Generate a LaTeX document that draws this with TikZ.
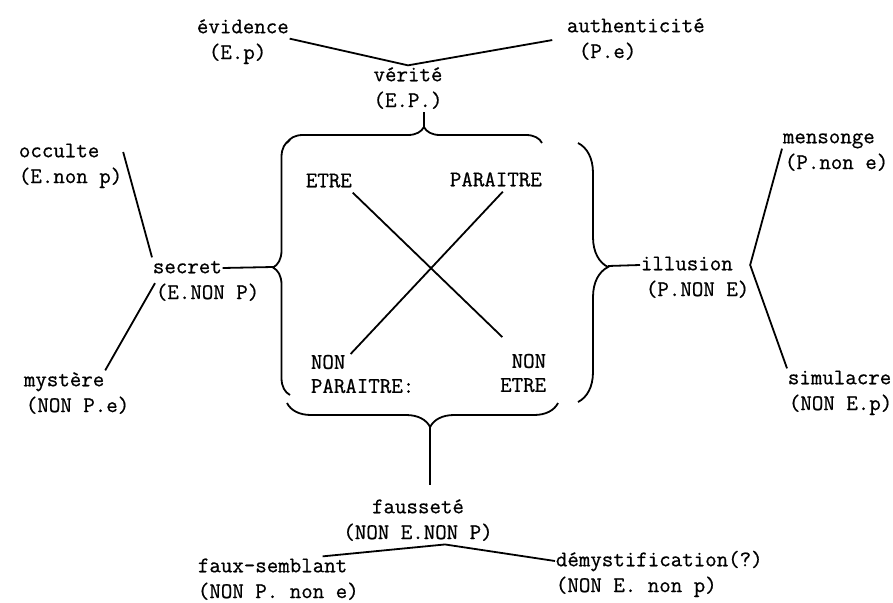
\documentclass[tikz,border=0pt]{standalone}
\usepackage{fontspec}
\newfontfamily\typefont[FakeBold=0.7]{Latin Modern Mono}
\usetikzlibrary{positioning,decorations.pathreplacing}

\begin{document}
\begin{tikzpicture}[x=1pt,y=-1pt,line width=1.8pt,
    every node/.style={inner sep=0pt,font=\typefont\fontsize{22.3}{24}\selectfont},
    term/.style={text height=15pt,text depth=4.5pt},
    curly/.style 2 args={decorate,decoration={brace,amplitude=#1,aspect=#2}}]
\useasboundingbox (0,0) rectangle (893,602);

% top: verite
\node[term] (verite) at (408,76) {vérité};
\node[term,below=4.5pt of verite] (veritef) {(E.P.)};
\node[term,anchor=west] (evid) at (196,28) {évidence};
\node[term,below right=4.5pt and 12pt of evid.south west] (evidf) {(E.p)};
\node[term,anchor=west] (auth) at (566,27) {authenticité};
\node[term,below right=4.5pt and 12pt of auth.south west] (authf) {(P.e)};

% left: secret
\node[term,anchor=west] (secret) at (152,268) {secret};
\node[term,below right=4.5pt and 3pt of secret.south west] (secretf) {(E.NON P)};
\node[term,anchor=west] (occ) at (18,152) {occulte};
\node[term,below right=4.5pt and 0pt of occ.south west] (occf) {(E.non p)};
\node[term,anchor=west] (myst) at (23,381) {mystère};
\node[term,below right=4.5pt and 2pt of myst.south west] (mystf) {(NON P.e)};

% right: illusion
\node[term,anchor=west] (illus) at (640,265) {illusion};
\node[term,below right=4.5pt and 5pt of illus.south west] (illusf) {(P.NON E)};
\node[term,anchor=west] (mens) at (782,138) {mensonge};
\node[term,below right=4.5pt and 2pt of mens.south west] (mensf) {(P.non e)};
\node[term,anchor=west] (simul) at (787,379) {simulacre};
\node[term,below right=4.5pt and 1pt of simul.south west] (simulf) {(NON E.p)};

% bottom: faussete
\node[term] (faus) at (418,508) {fausseté};
\node[term,below=4.5pt of faus] (fausf) {(NON E.NON P)};
\node[term,anchor=west] (faux) at (197,567) {faux-semblant};
\node[term,below right=4.5pt and 0pt of faux.south west] (fauxf) {(NON P. non e)};
\node[term,anchor=west] (demy) at (555,561) {démystification(?)};
\node[term,below right=4.5pt and 0pt of demy.south west] (demyf) {(NON E. non p)};

% the square
\node[term,anchor=west] (etre) at (305,182) {ETRE};
\node[term,anchor=west] (parait) at (449,181) {PARAITRE};
\node[anchor=west,align=left] (nonpar) at (310,374) {NON\\PARAITRE:};
\node[anchor=east,align=right] (nonetre) at (547,373) {NON\\ETRE};
\draw (etre.south east) -- ([shift={(3,-16)}]nonetre.north west);
\draw ([xshift=7pt]parait.south) -- ([xshift=-12pt]nonpar.north);

% braces
\draw[curly={16pt}{0.537}] (287,143) -- (542,143);
\draw[curly={17pt}{0.5}] (290,395) -- (290,140);
\draw[curly={30pt}{0.479}] (578,143) -- (578,402);
\draw[curly={24pt}{0.472}] (558,403) -- (287,403);
\coordinate (toptip) at (424,127);
\coordinate (lefttip) at (273,267);
\coordinate (righttip) at (608,266);
\coordinate (bottip) at (430,427);

% connectors
\draw (toptip) -- (toptip |- veritef.south);
\draw[shorten >=14pt] (evid.south east) -- (verite.north) -- (auth.south west);
\draw (secret.east) -- (lefttip);
\draw (occ.east -| occf.east) -- (secret.north west);
\draw (secretf.north west) -- (myst.north east);
\draw (righttip) -- (illus.west);
\draw (mens.south west) -- (illus.east -| illusf.east) -- (simul.north west);
\draw[shorten >=12pt] (bottip) -- (bottip |- faus.north);
\draw (faux.12) -- ([xshift=27pt]fausf.south) -- (demy.west);
\end{tikzpicture}
\end{document}
